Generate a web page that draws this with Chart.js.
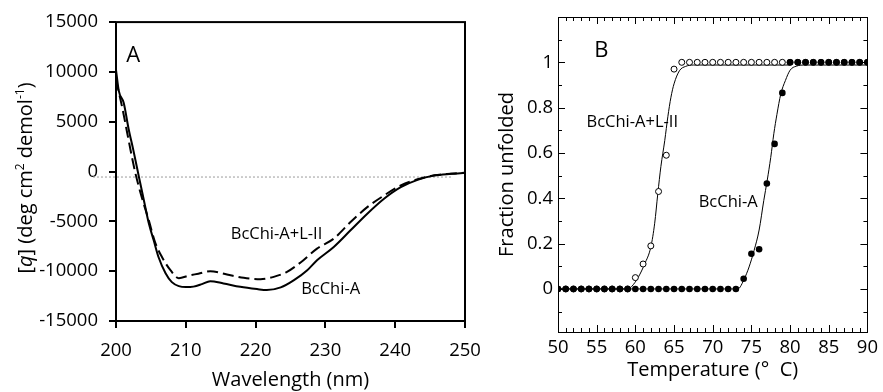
<!DOCTYPE html>
<html>
<head>
<meta charset="utf-8">
<script src="https://cdn.jsdelivr.net/npm/chart.js@4"></script>
<style>
  body { margin: 0; background: #fff; }
  #wrap { position: relative; width: 883px; height: 392px; background: #fff; }
  canvas { position: absolute; left: 0; top: 0; }
</style>
</head>
<body>
<div id="wrap">
  <canvas id="cdChart" width="883" height="392"></canvas>
  <canvas id="meltChart" width="883" height="392"></canvas>
</div>
<script>
// ---- Panel A: CD spectra ----
const cdWavelengthA = [200, 200.4, 201.1, 201.8, 202.5, 203.3, 204.0, 204.7, 205.4, 206.1, 207.1, 208.0, 209.0, 210.0, 211.1, 212.3, 213.5, 215.4, 217.8, 220.2, 221.6, 223.6, 225.5, 227.4, 228.8, 231.2, 233.6, 236.0, 238.4, 240.8, 243.2, 245.6, 248.0, 250];
const cdValuesA = [10200, 8100, 6900, 4300, 2100, -600, -2900, -5200, -6900, -8600, -10200, -11100, -11500, -11600, -11550, -11300, -11000, -11230, -11570, -11800, -11900, -11630, -10900, -9900, -8900, -7570, -5900, -4230, -2730, -1570, -830, -400, -230, -130];
const cdWavelengthAL2 = [200, 200.9, 201.6, 202.3, 202.8, 203.7, 204.7, 205.6, 206.6, 207.8, 209.0, 210.4, 211.8, 213.5, 215.9, 218.3, 220.7, 222.6, 224.5, 226.4, 228.8, 231.2, 233.6, 236.0, 238.4, 240.8, 243.2, 245.6, 248.0, 250];
const cdValuesAL2 = [9200, 6400, 3900, 1400, -230, -2600, -4900, -7100, -8600, -9900, -10700, -10450, -10250, -10000, -10330, -10670, -10800, -10570, -10070, -9150, -7730, -6730, -5070, -3570, -2400, -1400, -780, -380, -220, -130];
const baselineX = [196.7, 248];
const baselineY = [-550, -550];

// ---- Panel B: thermal unfolding ----
const meltTemps = [50, 51, 52, 53, 54, 55, 56, 57, 58, 59, 60, 61, 62, 63, 64, 65, 66, 67, 68, 69, 70, 71, 72, 73, 74, 75, 76, 77, 78, 79, 80, 81, 82, 83, 84, 85, 86, 87, 88, 89, 90];
const fracOpen = [0, 0, 0, 0, 0, 0, 0, 0, 0, 0, 0.05, 0.11, 0.19, 0.43, 0.59, 0.97, 1, 1, 1, 1, 1, 1, 1, 1, 1, 1, 1, 1, 1, 1, 1, 1, 1, 1, 1, 1, 1, 1, 1, 1, 1];
const fracFilled = [0, 0, 0, 0, 0, 0, 0, 0, 0, 0, 0, 0, 0, 0, 0, 0, 0, 0, 0, 0, 0, 0, 0, 0, 0.045, 0.155, 0.175, 0.465, 0.64, 0.865, 1, 1, 1, 1, 1, 1, 1, 1, 1, 1, 1];
const fitOpenT = [50, 59, 59.5, 60.4, 61.2, 62.0, 62.5, 62.9, 63.3, 63.8, 64.2, 64.6, 65.0, 65.7, 66.5, 67.5, 80];
const fitOpenF = [0, 0, 0.01, 0.053, 0.11, 0.185, 0.29, 0.42, 0.54, 0.655, 0.76, 0.846, 0.905, 0.963, 0.982, 0.988, 0.988];
const fitFilledT = [50, 73.25, 74.1, 74.7, 75.35, 76.0, 76.6, 77.05, 77.5, 77.9, 78.3, 78.8, 79.4, 80.0, 80.8, 82, 90];
const fitFilledF = [0, 0, 0.046, 0.097, 0.17, 0.26, 0.39, 0.48, 0.58, 0.685, 0.77, 0.86, 0.92, 0.965, 0.983, 0.988, 0.988];
const meltTicksY = [0, 0.2, 0.4, 0.6, 0.8, 1];

const FONT = "'Open Sans', sans-serif";
Chart.defaults.font.family = FONT;
Chart.defaults.color = '#000';

const pairs = (xs, ys) => xs.map((x, i) => ({ x: x, y: ys[i] }));
const tickFont = { size: 18.5 };
const titleFont = { size: 20 };
const labelFont = '16.5px ' + FONT;

// frame, labels and rich y title for panel A
const cdDecor = {
  id: 'cdDecor',
  afterDraw(chart) {
    const { ctx, chartArea: a, scales: { x, y } } = chart;
    ctx.save();
    ctx.strokeStyle = '#000';
    ctx.lineWidth = 2;
    ctx.strokeRect(a.left, a.top, a.right - a.left, a.bottom - a.top);

    ctx.fillStyle = '#000';
    ctx.textAlign = 'center';
    ctx.textBaseline = 'middle';
    ctx.font = '22px ' + FONT;
    ctx.fillText('A', x.getPixelForValue(202.45), y.getPixelForValue(11600));
    ctx.font = labelFont;
    ctx.fillText('BcChi-A+L-II', x.getPixelForValue(223), y.getPixelForValue(-6300));
    ctx.fillText('BcChi-A', x.getPixelForValue(230.75), y.getPixelForValue(-11800));

    // [q] (deg cm2 demol-1) with italic q and superscripts
    const parts = [
      ['[', '', 0], ['q', 'italic ', 0], ['] (deg cm', '', 0], ['2', '', 1],
      [' demol', '', 0], ['-1', '', 1], [')', '', 0]
    ];
    const fontFor = p => p[1] + (p[2] ? '12px ' : '20px ') + FONT;
    let total = 0;
    parts.forEach(p => { ctx.font = fontFor(p); total += ctx.measureText(p[0]).width; });
    ctx.translate(25, 178);
    ctx.rotate(-Math.PI / 2);
    ctx.textAlign = 'left';
    ctx.textBaseline = 'alphabetic';
    let cx = -total / 2;
    parts.forEach(p => {
      ctx.font = fontFor(p);
      ctx.fillText(p[0], cx, p[2] ? -1 : 7);
      cx += ctx.measureText(p[0]).width;
    });
    ctx.restore();
  }
};

new Chart(document.getElementById('cdChart'), {
  type: 'line',
  data: {
    datasets: [
      {
        label: 'BcChi-A',
        data: pairs(cdWavelengthA, cdValuesA),
        borderColor: '#000',
        borderWidth: 2,
        pointRadius: 0,
        cubicInterpolationMode: 'monotone',
        order: 1
      },
      {
        label: 'BcChi-A+L-II',
        data: pairs(cdWavelengthAL2, cdValuesAL2),
        borderColor: '#000',
        borderWidth: 2,
        borderDash: [11, 5],
        pointRadius: 0,
        cubicInterpolationMode: 'monotone',
        order: 2
      },
      {
        label: 'baseline',
        data: pairs(baselineX, baselineY),
        borderColor: '#9a9a9a',
        borderWidth: 1,
        borderDash: [2, 2],
        pointRadius: 0,
        clip: false,
        order: 3
      }
    ]
  },
  options: {
    responsive: false,
    animation: false,
    layout: { padding: { left: 0, top: 20, right: 418, bottom: 0 } },
    plugins: { legend: { display: false }, tooltip: { enabled: false } },
    scales: {
      x: {
        type: 'linear',
        min: 200,
        max: 250,
        ticks: { stepSize: 10, padding: 12, font: tickFont, callback: v => String(v) },
        grid: { drawOnChartArea: false, tickLength: 7, color: '#000', lineWidth: 2 },
        border: { display: false },
        title: { display: true, text: 'Wavelength (nm)', font: titleFont, padding: { top: 0, bottom: 0 } },
        afterFit: s => { s.height = 71; }
      },
      y: {
        min: -15000,
        max: 15000,
        ticks: { stepSize: 5000, padding: 11, font: tickFont, callback: v => String(v) },
        grid: { drawOnChartArea: false, tickLength: 7, color: '#000', lineWidth: 2 },
        border: { display: false },
        afterFit: s => { s.width = 116; }
      }
    }
  },
  plugins: [cdDecor]
});

// frame, inside ticks and labels for panel B
const meltDecor = {
  id: 'meltDecor',
  afterDraw(chart) {
    const { ctx, chartArea: a, scales: { x, y } } = chart;
    ctx.save();
    ctx.strokeStyle = '#000';
    ctx.lineWidth = 1;
    ctx.strokeRect(Math.round(a.left) + 0.5, Math.round(a.top) + 0.5,
      Math.round(a.right - a.left), Math.round(a.bottom - a.top));
    ctx.beginPath();
    for (let t = x.min; t <= x.max; t++) {
      const px = Math.round(x.getPixelForValue(t)) + 0.5;
      const len = t % 5 === 0 ? 7 : 4;
      ctx.moveTo(px, a.bottom); ctx.lineTo(px, a.bottom - len);
      ctx.moveTo(px, a.top); ctx.lineTo(px, a.top + len);
    }
    for (let k = -1; k <= 12; k++) {
      const py = Math.round(y.getPixelForValue(k / 10)) + 0.5;
      const len = k % 2 === 0 ? 7 : 4;
      ctx.moveTo(a.left, py); ctx.lineTo(a.left + len, py);
      ctx.moveTo(a.right, py); ctx.lineTo(a.right - len, py);
    }
    ctx.stroke();

    ctx.fillStyle = '#000';
    ctx.textAlign = 'center';
    ctx.textBaseline = 'middle';
    ctx.font = '22px ' + FONT;
    ctx.fillText('B', x.getPixelForValue(55.6), y.getPixelForValue(1.05));
    ctx.font = labelFont;
    ctx.fillText('BcChi-A+L-II', x.getPixelForValue(59.6), y.getPixelForValue(0.734));
    ctx.fillText('BcChi-A', x.getPixelForValue(72.0), y.getPixelForValue(0.382));
    ctx.restore();
  }
};

new Chart(document.getElementById('meltChart'), {
  type: 'line',
  data: {
    datasets: [
      {
        label: 'BcChi-A',
        data: pairs(meltTemps, fracFilled),
        showLine: false,
        pointRadius: 3.3,
        pointBackgroundColor: '#000',
        pointBorderColor: '#000',
        pointBorderWidth: 0,
        order: 1
      },
      {
        label: 'BcChi-A+L-II',
        data: pairs(meltTemps, fracOpen),
        showLine: false,
        pointRadius: 3,
        pointBackgroundColor: '#fff',
        pointBorderColor: '#000',
        pointBorderWidth: 1,
        order: 2
      },
      {
        label: 'fit BcChi-A+L-II',
        data: pairs(fitOpenT, fitOpenF),
        borderColor: '#000',
        borderWidth: 1,
        pointRadius: 0,
        cubicInterpolationMode: 'monotone',
        order: 3
      },
      {
        label: 'fit BcChi-A',
        data: pairs(fitFilledT, fitFilledF),
        borderColor: '#000',
        borderWidth: 1,
        pointRadius: 0,
        cubicInterpolationMode: 'monotone',
        order: 3
      }
    ]
  },
  options: {
    responsive: false,
    animation: false,
    layout: { padding: { left: 470, top: 17, right: 9, bottom: 0 } },
    plugins: { legend: { display: false }, tooltip: { enabled: false } },
    scales: {
      x: {
        type: 'linear',
        min: 50,
        max: 90,
        ticks: { stepSize: 5, padding: 5, font: tickFont, callback: v => String(v) },
        grid: { display: false, drawTicks: false },
        border: { display: false },
        title: { display: true, text: 'Temperature (°  C)', font: titleFont, padding: { top: 0, bottom: 10 } },
        afterFit: s => { s.height = 60; }
      },
      y: {
        min: -0.19,
        max: 1.2,
        afterBuildTicks: s => { s.ticks = meltTicksY.map(v => ({ value: v })); },
        ticks: { padding: 5, font: tickFont, callback: v => String(v) },
        grid: { display: false, drawTicks: false },
        border: { display: false },
        title: { display: true, text: 'Fraction unfolded', font: titleFont, padding: { top: 25, bottom: 0 } },
        afterFit: s => { s.width = 88; }
      }
    }
  },
  plugins: [meltDecor]
});
</script>
</body>
</html>
